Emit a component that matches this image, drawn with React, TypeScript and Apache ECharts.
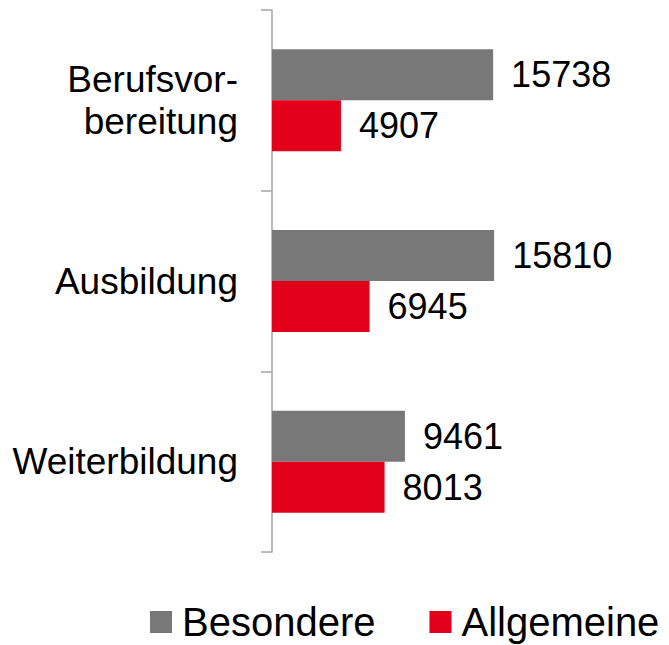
import React, { useEffect, useRef } from "react";
import * as echarts from "echarts";

const categories = ["Berufsvor-\nbereitung", "Ausbildung", "Weiterbildung"];
const besondere = [15738, 15810, 9461];
const allgemeine = [4907, 6945, 8013];
const seriesNames = ["Besondere", "Allgemeine"];

const FONT = "Liberation Sans, Arial, sans-serif";

export default function App() {
  const ref = useRef<HTMLDivElement>(null);
  useEffect(() => {
    if (!ref.current) return;
    const chart = echarts.init(ref.current, undefined, { renderer: "svg" });
    const labelStyle = {
      show: true,
      position: "right" as const,
      distance: 18,
      fontSize: 36,
      color: "#000",
      fontFamily: FONT,
    };
    chart.setOption({
      animation: false,
      backgroundColor: "#fff",
      grid: { left: 272, top: 10, width: 281, height: 542, containLabel: false },
      xAxis: {
        type: "value",
        min: 0,
        max: 20000,
        show: false,
      },
      yAxis: {
        type: "category",
        inverse: true,
        data: categories,
        axisLine: { show: true, lineStyle: { color: "#a6a6a6", width: 1.5 } },
        axisTick: { show: true, length: 11, lineStyle: { color: "#a6a6a6", width: 1.5 } },
        axisLabel: {
          margin: 34,
          fontSize: 37,
          color: "#000",
          fontFamily: FONT,
          lineHeight: 42,
          align: "right",
        },
        splitLine: { show: false },
      },
      legend: {
        left: 145,
        top: 597,
        icon: "rect",
        itemWidth: 22,
        itemHeight: 22,
        itemGap: 54,
        textStyle: { fontSize: 40, lineHeight: 40, color: "#000", fontFamily: FONT, padding: [0, 0, 0, 5] },
        data: seriesNames,
      },
      series: [
        {
          name: seriesNames[0],
          type: "bar",
          data: besondere,
          barWidth: 51,
          barGap: "0%",
          itemStyle: { color: "#787878" },
          label: labelStyle,
        },
        {
          name: seriesNames[1],
          type: "bar",
          data: allgemeine,
          barWidth: 51,
          barGap: "0%",
          itemStyle: { color: "#e2001a" },
          label: labelStyle,
        },
      ],
    });
    return () => chart.dispose();
  }, []);
  return <div ref={ref} style={{ width: 669, height: 645, position: "absolute", left: 0, top: 0 }} />;
}
